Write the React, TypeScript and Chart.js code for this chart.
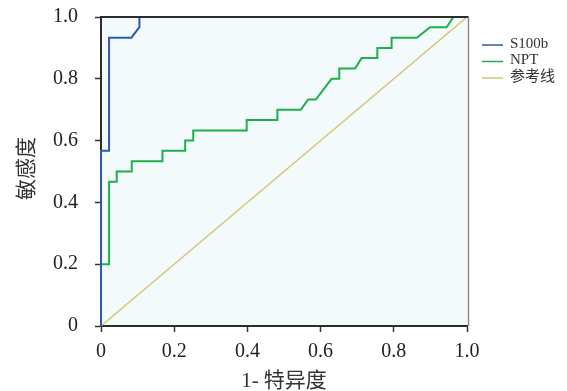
import React, { useEffect, useRef } from 'react';
import { Chart, registerables } from 'chart.js';

Chart.register(...registerables);

// ---- data ----
const s100bFpr = [0, 0, 0.022, 0.022, 0.083, 0.105, 0.105, 1];
const s100bTpr = [0, 0.567, 0.567, 0.933, 0.933, 0.967, 1, 1];

const nptFpr = [
  0, 0, 0.022, 0.022, 0.043, 0.043, 0.084, 0.084, 0.168, 0.168, 0.23, 0.23,
  0.252, 0.252, 0.398, 0.398, 0.482, 0.482, 0.546, 0.566, 0.587, 0.63, 0.651,
  0.651, 0.694, 0.712, 0.755, 0.755, 0.794, 0.794, 0.863, 0.899, 0.944, 0.963, 1,
];
const nptTpr = [
  0, 0.2, 0.2, 0.467, 0.467, 0.5, 0.5, 0.533, 0.533, 0.567, 0.567, 0.6,
  0.6, 0.633, 0.633, 0.667, 0.667, 0.7, 0.7, 0.733, 0.733, 0.8, 0.8,
  0.833, 0.833, 0.867, 0.867, 0.9, 0.9, 0.933, 0.933, 0.967, 0.967, 1, 1,
];

const refFpr = [0, 1];
const refTpr = [0, 1];

const seriesLabels = ['S100b', 'NPT', '参考线'];
const seriesColors = ['#2d58ab', '#1fae4d', '#d8c46e'];
const tickValues = [0, 0.2, 0.4, 0.6, 0.8, 1.0];
const xTitle = '1- 特异度';
const yTitle = '敏感度';

const FONT = "'Liberation Serif', 'Noto Sans CJK SC', serif";

const toPoints = (xs: number[], ys: number[]) => xs.map((x, i) => ({ x, y: ys[i] }));
const tickLabel = (v: number) => (v === 0 ? '0' : v.toFixed(1));

const decor = {
  id: 'decor',
  beforeDraw(chart: any) {
    const { ctx, chartArea: a } = chart;
    ctx.save();
    ctx.fillStyle = '#f3fafb';
    ctx.fillRect(a.left, a.top, a.right - a.left, a.bottom - a.top);
    ctx.restore();
  },
  afterDraw(chart: any) {
    const { ctx, chartArea: a } = chart;
    ctx.save();
    // top frame
    ctx.strokeStyle = '#2b2b2b';
    ctx.lineWidth = 2;
    ctx.beginPath();
    ctx.moveTo(a.left, a.top);
    ctx.lineTo(a.right + 1.5, a.top);
    ctx.stroke();
    // right frame
    ctx.strokeStyle = '#8c8c8c';
    ctx.lineWidth = 1.5;
    ctx.beginPath();
    ctx.moveTo(a.right + 1.5, a.top);
    ctx.lineTo(a.right + 1.5, a.bottom);
    ctx.stroke();

    // legend
    ctx.font = `15px ${FONT}`;
    ctx.textBaseline = 'middle';
    ctx.textAlign = 'left';
    chart.data.datasets.forEach((ds: any, i: number) => {
      const y = 45 + i * 16.5;
      ctx.strokeStyle = ds.borderColor;
      ctx.lineWidth = 1.5;
      ctx.beginPath();
      ctx.moveTo(482, y);
      ctx.lineTo(503, y);
      ctx.stroke();
      ctx.fillStyle = '#333';
      ctx.fillText(ds.label, 510, y - 1);
    });

    // axis titles
    ctx.fillStyle = '#333';
    ctx.font = `21px ${FONT}`;
    ctx.textAlign = 'center';
    ctx.fillText(xTitle, (a.left + a.right) / 2, 381);
    ctx.translate(27, (a.top + a.bottom) / 2 - 3);
    ctx.rotate(-Math.PI / 2);
    ctx.fillText(yTitle, 0, 0);
    ctx.restore();
  },
};

export default function App() {
  const ref = useRef<HTMLCanvasElement | null>(null);

  useEffect(() => {
    if (!ref.current) return;
    const axisCommon = (isX: boolean) => ({
      type: 'linear' as const,
      min: 0,
      max: 1,
      afterBuildTicks: (scale: any) => {
        scale.ticks = tickValues.map((v) => ({ value: v }));
      },
      afterFit: (scale: any) => {
        if (isX) {
          scale.height = 65;
          scale.paddingLeft = 0;
          scale.paddingRight = 0;
        } else {
          scale.width = 101;
          scale.paddingTop = 0;
          scale.paddingBottom = 0;
        }
      },
      grid: {
        display: true,
        drawOnChartArea: false,
        drawTicks: true,
        tickLength: 6,
        tickWidth: 1.5,
        tickColor: '#333',
      },
      border: { display: true, color: '#2b2b2b', width: 2 },
      ticks: {
        callback: (v: any) => tickLabel(Number(v)),
        font: { family: FONT, size: 20 },
        color: '#222',
        padding: isX ? 8 : 17,
        maxRotation: 0,
        autoSkip: false,
      },
    });

    const chart = new Chart(ref.current, {
      type: 'line',
      data: {
        datasets: [
          {
            label: seriesLabels[0],
            data: toPoints(s100bFpr, s100bTpr),
            borderColor: seriesColors[0],
            borderWidth: 2,
            pointRadius: 0,
            tension: 0,
            clip: 4,
          },
          {
            label: seriesLabels[1],
            data: toPoints(nptFpr, nptTpr),
            borderColor: seriesColors[1],
            borderWidth: 2,
            pointRadius: 0,
            tension: 0,
            clip: 4,
          },
          {
            label: seriesLabels[2],
            data: toPoints(refFpr, refTpr),
            borderColor: seriesColors[2],
            borderWidth: 1.5,
            pointRadius: 0,
            tension: 0,
            clip: 4,
          },
        ],
      },
      options: {
        animation: false,
        responsive: false,
        devicePixelRatio: 1,
        layout: { padding: { left: 0, right: 100, top: 17, bottom: 0 } },
        plugins: {
          legend: { display: false },
          tooltip: { enabled: false },
        },
        scales: {
          x: axisCommon(true),
          y: axisCommon(false),
        },
      } as any,
      plugins: [decor],
    });
    return () => chart.destroy();
  }, []);

  return (
    <div style={{ position: 'absolute', left: 0, top: 0, width: 567, height: 391, background: '#fff' }}>
      <canvas ref={ref} width={567} height={391} style={{ width: 567, height: 391, display: 'block' }} />
    </div>
  );
}
